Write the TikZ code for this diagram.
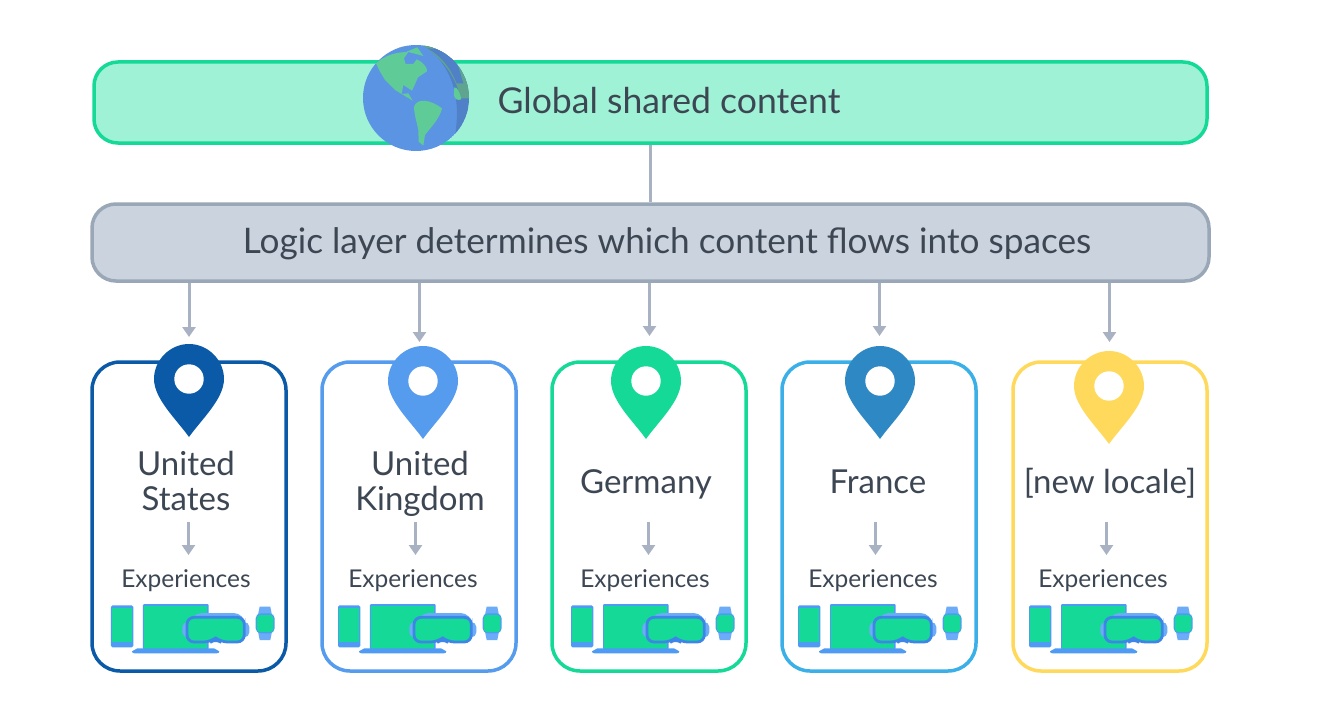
\documentclass[tikz,border=0pt]{standalone}
\usepackage{fontspec}
\setmainfont{Lato}
\usetikzlibrary{arrows.meta}
\definecolor{cnavy}{HTML}{0B5AA8}
\definecolor{cblue}{HTML}{559BEE}
\definecolor{cgreen}{HTML}{14D997}
\definecolor{csky}{HTML}{3BB0E8}
\definecolor{cyel}{HTML}{FFD95C}
\definecolor{cpin}{HTML}{2E88C4}
\definecolor{cmint}{HTML}{A0F2D6}
\definecolor{cslate}{HTML}{CBD3DE}
\definecolor{cedge}{HTML}{9AA7B7}
\definecolor{clink}{HTML}{A8B2C2}
\definecolor{ctext}{HTML}{3D4754}
\definecolor{devblue}{HTML}{4F9AF5}
\definecolor{devdark}{HTML}{3D85E6}
\definecolor{devlite}{HTML}{6BABF8}
\definecolor{globeb}{HTML}{5C94E4}
\definecolor{globed}{HTML}{4F80C8}
\definecolor{land}{HTML}{5FCB96}
\definecolor{landd}{HTML}{5FA48E}
\tikzset{
  panel/.style={draw=#1,line width=3.5pt,rounded corners=28pt,fill=white,minimum width=194pt,minimum height=309pt,inner sep=0pt},
  bar/.style={line width=3.5pt,rounded corners=24pt,inner sep=0pt},
  link/.style={draw=clink,line width=3pt},
  flow/.style={link,-{Triangle[length=10pt,width=13pt]}},
  label/.style={text=ctext,inner sep=0pt,align=center,anchor=base},
  bigtext/.style={label,font=\fontsize{35.6}{36}\selectfont},
  logictextstyle/.style={label,font=\fontsize{35.2}{36}\selectfont},
  midtext/.style={label,font=\fontsize{33}{35}\selectfont},
  smalltext/.style={label,font=\fontsize{24.5}{26}\selectfont},
}
\newcommand{\mypin}[3]{% x, y of the hole, colour
  \fill[#3] (#1,#2+58) .. controls (#1-12,#2+41) and (#1-35,#2+20) .. (#1-35,#2)
    .. controls (#1-35,#2-19) and (#1-19,#2-35) .. (#1,#2-35)
    .. controls (#1+19,#2-35) and (#1+35,#2-19) .. (#1+35,#2)
    .. controls (#1+35,#2+20) and (#1+12,#2+41) .. (#1,#2+58) -- cycle;
  \fill[white] (#1,#2) circle[radius=14.7];
}
\newcommand{\mydevices}[1]{%
  \begin{scope}[shift={(#1+90,590)},x=0.3333pt,y=-0.3333pt]
    % phone
    \fill[devblue,rounded corners=1.5pt] (63,46) rectangle (130,172);
    \fill[cgreen] (67,54) rectangle (126,155);
    % laptop
    \fill[devblue,rounded corners=1pt] (159,42) rectangle (356,178);
    \fill[cgreen] (163,48) rectangle (352,176);
    \fill[devblue] (142,175) -- (372,175) -- (388,184) .. controls (388,188) and (385,190) .. (380,190) -- (134,190) .. controls (129,190) and (126,188) .. (126,184) -- cycle;
    % goggles
    \fill[devlite,rounded corners=5pt] (277,96) rectangle (478,142);
    \fill[devlite,rounded corners=12pt] (300,69) rectangle (466,120);
    \fill[cgreen,draw=devdark,line width=2.8pt,rounded corners=7pt] (291,82) -- (463,82) -- (463,156) -- (392,156) -- (377,144) -- (362,156) -- (291,156) -- cycle;
    % watch
    \fill[devlite] (509,50) -- (541,50) -- (546,75) -- (546,125) -- (541,150) -- (509,150) -- (504,125) -- (504,75) -- cycle;
    \fill[devblue,rounded corners=5pt] (497,70) rectangle (554,130);
    \fill[cgreen,rounded corners=3pt] (501,75) rectangle (550,126);
  \end{scope}
}
\begin{document}
\begin{tikzpicture}[x=1pt,y=-1pt]
\useasboundingbox (0,0) rectangle (1320,709);
\fill[white] (0,0) rectangle (1320,709);
% bars
\node[bar,draw=cgreen,fill=cmint,minimum width=1113pt,minimum height=81pt] (global) at (650.5,102.5) {};
\node[bar,draw=cedge,fill=cslate,minimum width=1117pt,minimum height=77pt] (logic) at (650.5,242.5) {};
\draw[link] (global) -- (logic);
% globe
\begin{scope}
  \clip (416,98) circle[radius=53];
  \fill[globeb] (416,98) circle[radius=53];
  \begin{scope}[shift={(340,30)},x=0.3333pt,y=-0.3333pt]
    \fill[globed] (240,35) .. controls (320,90) and (375,180) .. (340,345) -- (420,370) -- (420,30) -- cycle;
    \fill[landd] (130,70) .. controls (180,50) and (225,40) .. (240,40) .. controls (300,80) and (345,130) .. (362,205) -- (400,205) -- (400,30) -- (130,30) -- cycle;
    \fill[globed] (262,55) .. controls (300,75) and (330,110) .. (350,160) -- (370,160) -- (340,60) -- cycle;
    \fill[land] (343,172) .. controls (352,170) and (360,188) .. (364,208) .. controls (352,214) and (340,205) .. (342,190) -- cycle;
    \fill[land] (108,100) .. controls (135,75) and (170,66) .. (205,66) -- (192,85) -- (197,102) -- (220,102) -- (230,88) .. controls (250,95) and (263,115) .. (261,124) -- (234,142) -- (224,165) -- (216,182) -- (190,165) -- (185,192) -- (205,190) -- (218,212) -- (195,198) -- (165,180) -- (135,150) -- (120,125) -- cycle;
    \fill[land] (200,65) -- (232,52) -- (250,78) -- (228,72) -- cycle;
    \fill[land] (222,230) .. controls (232,203) and (270,208) .. (306,235) .. controls (300,265) and (270,295) .. (255,315) -- (250,347) -- (236,335) -- (235,300) .. controls (230,275) and (222,250) .. (222,230) -- cycle;
  \end{scope}
\end{scope}
\node[bigtext] (globaltext) at (669,113) {Global shared content};
\node[logictextstyle] (logictext) at (667,253) {Logic layer determines which content flows into spaces};
% panels
\node[panel=cnavy] (p1) at (189,516.5) {};
\node[panel=cblue] (p2) at (419,516.5) {};
\node[panel=cgreen] (p3) at (649,516.5) {};
\node[panel=csky] (p4) at (879,516.5) {};
\node[panel=cyel] (p5) at (1110,516.5) {};
% big arrows
\coordinate (e1) at (189,337);
\coordinate (e2) at (419.5,342);
\coordinate (e3) at (649.5,336);
\coordinate (e4) at (879.5,336);
\coordinate (e5) at (1109.5,342);
\foreach \i in {1,...,5} \draw[flow] (logic.south -| e\i) -- (e\i);
% pins
\mypin{189}{379}{cnavy}
\mypin{423}{381}{cblue}
\mypin{646}{381}{cgreen}
\mypin{880}{381}{cpin}
\mypin{1109}{386}{cyel}
% labels
\node[midtext] (n1a) at (186,475) {United};
\node[midtext] (n1b) at (186,510) {States};
\node[midtext] (n2a) at (420,475) {United};
\node[midtext] (n2b) at (420,510) {Kingdom};
\node[midtext] (n3) at (646,493) {Germany};
\node[midtext] (n4) at (878,493) {France};
\node[midtext] (n5) at (1110,493) {[new locale]};
\node[smalltext] (x1) at (186,587) {Experiences};
\node[smalltext] (x2) at (413,587) {Experiences};
\node[smalltext] (x3) at (645,587) {Experiences};
\node[smalltext] (x4) at (873,587) {Experiences};
\node[smalltext] (x5) at (1103,587) {Experiences};
% small arrows
\coordinate (a1) at (188.5,522); \coordinate (b1) at (188.5,555);
\coordinate (a2) at (415.5,522); \coordinate (b2) at (415.5,555);
\coordinate (a3) at (648.5,522); \coordinate (b3) at (648.5,555);
\coordinate (a4) at (875.5,522); \coordinate (b4) at (875.5,555);
\coordinate (a5) at (1106.5,522); \coordinate (b5) at (1106.5,555);
\foreach \i in {1,...,5} \draw[flow] (a\i) -- (b\i);
% devices
\mydevices{0}
\mydevices{227}
\mydevices{460}
\mydevices{687}
\mydevices{918}
\end{tikzpicture}
\end{document}
